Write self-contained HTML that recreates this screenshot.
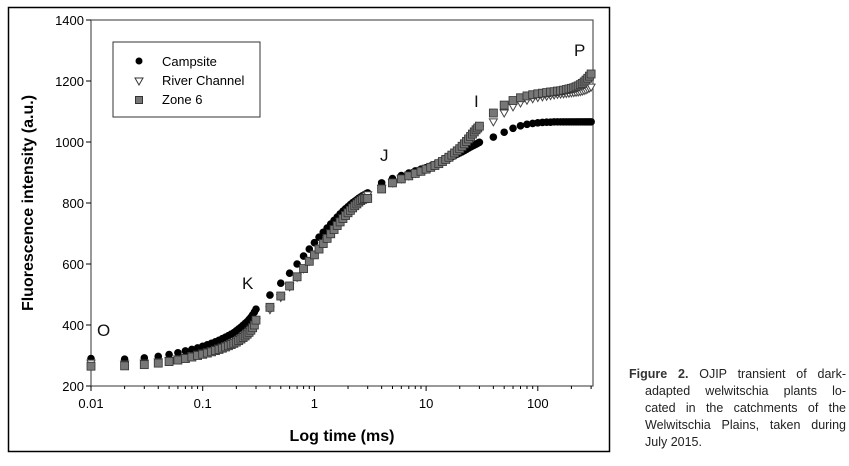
<!DOCTYPE html>
<html><head><meta charset="utf-8"><style>
body{margin:0;width:849px;height:466px;background:#fff;overflow:hidden;font-family:"Liberation Sans",sans-serif}
#cap{position:absolute;left:629px;top:366px;width:217px;font-size:12.5px;line-height:17px;color:#222}
#cap div{text-align:justify;text-align-last:justify;white-space:nowrap;padding-left:16px}
#cap div.f{padding-left:0}
#cap div.l{text-align-last:left}
</style></head><body>
<svg id="chart" width="849" height="466" style="position:absolute;left:0;top:0" font-family="Liberation Sans, sans-serif">
<rect x="8.5" y="7.5" width="601" height="444" fill="none" stroke="#000" stroke-width="1.5"/>
<rect x="91" y="20" width="502" height="366" fill="#fff" stroke="#555" stroke-width="1.2"/>
<g id="axes"></g>
<g id="marks"></g>
<text transform="translate(33,203) rotate(-90)" text-anchor="middle" font-size="16" font-weight="bold">Fluorescence intensity (a.u.)</text>
<text x="342" y="441" text-anchor="middle" font-size="16" font-weight="bold">Log time (ms)</text>
<g font-size="17" fill="#111">
<text x="97" y="336">O</text>
<text x="242" y="289">K</text>
<text x="380" y="161">J</text>
<text x="474" y="107">I</text>
<text x="574" y="56">P</text>
</g>
<g>
<rect x="113" y="42" width="147" height="75" fill="#fff" stroke="#333"/>
<circle cx="139" cy="61" r="3.5" fill="#000"/>
<text x="162" y="66" font-size="13">Campsite</text>
<path d="M135,78 L143,78 L139,85 Z" fill="#fff" stroke="#333"/>
<text x="162" y="85" font-size="13">River Channel</text>
<rect x="135.5" y="96.5" width="7" height="7" fill="#777" stroke="#333"/>
<text x="162" y="104" font-size="13">Zone 6</text>
</g>
</svg>
<div id="cap">
<div class="f"><b style="color:#333">Figure 2.</b> OJIP transient of dark-</div>
<div>adapted welwitschia plants lo-</div>
<div>cated in the catchments of the</div>
<div>Welwitschia Plains, taken during</div>
<div class="l">July 2015.</div>
</div>
<script>
const times=[0.01,0.02,0.03,0.04,0.05,0.06,0.07,0.08,0.09,0.1,0.11,0.12,0.13,0.14,0.15,0.16,0.17,0.18,0.19,0.2,0.21,0.22,0.23,0.24,0.25,0.26,0.27,0.28,0.29,0.3,
0.4,0.5,0.6,0.7,0.8,0.9,1.0,1.1,1.2,1.3,1.4,1.5,1.6,1.7,1.8,1.9,2.0,2.1,2.2,2.3,2.4,2.5,2.6,2.7,2.8,2.9,3.0,
4,5,6,7,8,9,10,11,12,13,14,15,16,17,18,19,20,21,22,23,24,25,26,27,28,29,30,
40,50,60,70,80,90,100,110,120,130,140,150,160,170,180,190,200,210,220,230,240,250,260,270,280,290,300];
const campsite=[290,288,292,297,303,309,315,320,325,330,335,340,345,350,355,360,365,370,375,381,387,393,399,405,411,418,425,433,442,452,
498,537,570,600,626,649,670,688,704,718,731,743,754,764,773,781,788,795,801,806,811,816,820,824,827,830,833,
866,880,890,898,905,911,916,921,926,931,936,941,946,951,956,960,964,968,972,976,980,984,987,990,993,996,999,
1016,1032,1045,1053,1058,1061,1063,1064,1065,1065,1066,1066,1066,1066,1066,1066,1066,1066,1066,1066,1066,1066,1066,1066,1066,1066,1066];
const riverChannel=[275,272,275,279,284,289,294,299,304,308,312,316,320,324,328,332,336,340,344,348,353,358,363,368,374,380,387,394,402,410,
450,490,525,556,584,609,631,651,669,686,701,715,728,740,751,761,770,778,786,793,799,805,810,815,819,823,827,
848,866,879,889,897,904,911,917,923,929,935,941,947,953,959,965,972,980,988,996,1004,1012,1019,1026,1032,1037,1042,
1066,1095,1115,1128,1137,1142,1146,1148,1150,1152,1154,1156,1157,1158,1159,1160,1161,1162,1163,1164,1165,1167,1169,1171,1174,1177,1180];
const zone6=[265,266,270,275,280,285,290,295,300,304,308,312,316,320,324,328,332,336,340,344,349,354,359,364,370,376,383,391,400,416,
458,495,528,558,585,609,630,649,667,684,699,713,726,738,749,759,768,776,784,791,797,803,808,812,814,815,815,
846,866,879,889,897,904,911,917,923,929,936,943,950,957,964,971,978,986,994,1002,1010,1018,1026,1033,1040,1046,1052,
1095,1121,1136,1145,1151,1155,1158,1160,1162,1164,1165,1167,1168,1170,1172,1174,1176,1178,1181,1184,1188,1192,1197,1203,1209,1216,1223];
const yTicks=[200,400,600,800,1000,1200,1400];
const xTicks=[0.01,0.1,1,10,100];
const xTickLabels=["0.01","0.1","1","10","100"];

const NS="http://www.w3.org/2000/svg";
const X0=91,X1=593,Y0=386,Y1=20,xmin=0.01,xmax=312,ymin=200,ymax=1400;
function xs(t){return X0+(Math.log10(t)-Math.log10(xmin))/(Math.log10(xmax)-Math.log10(xmin))*(X1-X0);}
function ys(v){return Y0-(v-ymin)/(ymax-ymin)*(Y0-Y1);}
function mk(tag,attrs,parent){const e=document.createElementNS(NS,tag);for(const k in attrs)e.setAttribute(k,attrs[k]);parent.appendChild(e);return e;}
const axes=document.getElementById('axes'),marks=document.getElementById('marks');
yTicks.forEach(v=>{
  const l=mk('line',{x1:X0-5,x2:X0,y1:ys(v),y2:ys(v),stroke:'#000'},axes);
  
  
  const t=mk('text',{x:X0-7,y:ys(v)+5,'text-anchor':'end','font-size':'13'},axes);
  t.textContent=v;
  
  
});
xTicks.forEach((v,i)=>{
  const l=mk('line',{x1:xs(v),x2:xs(v),y1:Y0,y2:Y0+5,stroke:'#000'},axes);
  
  
  const t=mk('text',{x:xs(v),y:Y0+22,'text-anchor':'middle','font-size':'13'},axes);
  t.textContent=xTickLabels[i];
  
  
  for(let m=2;m<=9;m++){const mv=v*m;if(mv>xmax)break;
    const ml=mk('line',{x1:xs(mv),x2:xs(mv),y1:Y0,y2:Y0+3,stroke:'#000'},axes);
    
    }
});
times.forEach((t,i)=>{
  const c=mk('circle',{cx:xs(t),cy:ys(campsite[i]),r:3.8,fill:'#000'},marks);
  
  
});
times.forEach((t,i)=>{
  const x=xs(t),y=ys(riverChannel[i]);
  const p=mk('path',{d:`M${x-4},${y-3} L${x+4},${y-3} L${x},${y+4} Z`,fill:'#fff',stroke:'#444','stroke-width':1},marks);
  
  
});
times.forEach((t,i)=>{
  const x=xs(t),y=ys(zone6[i]);
  const r=mk('rect',{x:x-4,y:y-4,width:8,height:8,fill:'#777',stroke:'#333','stroke-width':0.8},marks);
  
  
});
</script>
</body></html>
